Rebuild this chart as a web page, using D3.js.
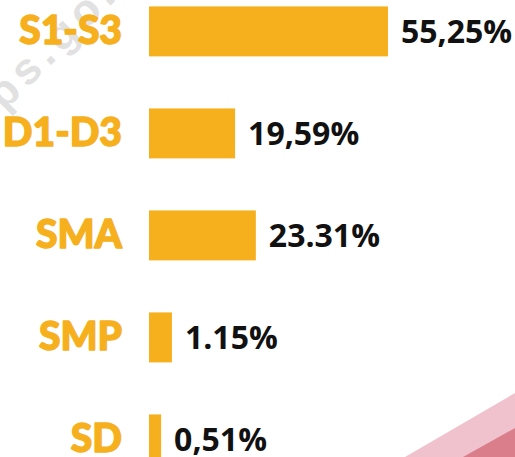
<!DOCTYPE html>
<html>
<head>
<meta charset="utf-8">
<script src="https://cdn.jsdelivr.net/npm/d3@7"></script>
<style>
  html, body { margin: 0; padding: 0; background: #fff; }
  svg { display: block; }
</style>
</head>
<body>
<svg id="chart" width="515" height="457"></svg>
<script>
// education levels, top to bottom
const categories = ['S1-S3', 'D1-D3', 'SMA', 'SMP', 'SD'];
// bar lengths as drawn in the picture (percent units; small bars are drawn longer than their label)
const barLengths = [55.25, 19.9, 24.7, 5.3, 2.8];
// printed value labels, kept as written
const valueLabels = ['55,25%', '19,59%', '23.31%', '1.15%', '0,51%'];

const orange = '#f6b01e';

let svg = d3.select('#chart'),
  width = +svg.attr('width'),
  height = +svg.attr('height');

// decoration in the bottom right corner
svg.append('polygon')
  .attr('points', '405,457 515,393 515,457')
  .attr('fill', '#f0c2cd');
svg.append('polygon')
  .attr('points', '463,457 515,428 515,457')
  .attr('fill', '#da7e8b');

// faint watermark top left
svg.append('text')
  .attr('transform', 'translate(-19,135) rotate(-45)')
  .attr('font-family', 'Liberation Sans, sans-serif')
  .attr('font-weight', 700)
  .attr('font-size', 44)
  .attr('letter-spacing', 6)
  .attr('fill', '#dadada')
  .attr('opacity', 0.8)
  .text('bps.go.id');

let x = d3.scaleLinear()
  .domain([0, 55.25])
  .range([149, 388]);

let y = d3.scaleBand()
  .domain(categories)
  .range([6.4, 464.4])
  .paddingInner(0.51)
  .paddingOuter(0);

let row = svg.selectAll('.row')
  .data(categories)
  .enter().append('g')
  .attr('class', 'row');

row.append('rect')
  .attr('x', x(0))
  .attr('y', function(d) { return y(d); })
  .attr('width', function(d, i) { return x(barLengths[i]) - x(0); })
  .attr('height', y.bandwidth())
  .attr('fill', orange);

row.append('text')
  .attr('x', 122)
  .attr('y', function(d) { return y(d) + y.bandwidth() / 2 + 13; })
  .attr('text-anchor', 'end')
  .attr('font-family', 'Lato, Liberation Sans, sans-serif')
  .attr('font-weight', 900)
  .attr('font-size', 39)
  .attr('fill', orange)
  .attr('stroke', orange)
  .attr('stroke-width', 1.4)
  .attr('stroke-linejoin', 'round')
  .text(function(d) { return d; });

row.append('text')
  .attr('x', function(d, i) { return x(barLengths[i]) + 13; })
  .attr('y', function(d) { return y(d) + y.bandwidth() / 2 + 12; })
  .attr('font-family', 'Open Sans, Liberation Sans, sans-serif')
  .attr('font-weight', 700)
  .attr('font-size', 32)
  .attr('fill', '#111')
  .text(function(d, i) { return valueLabels[i]; });
</script>
</body>
</html>
